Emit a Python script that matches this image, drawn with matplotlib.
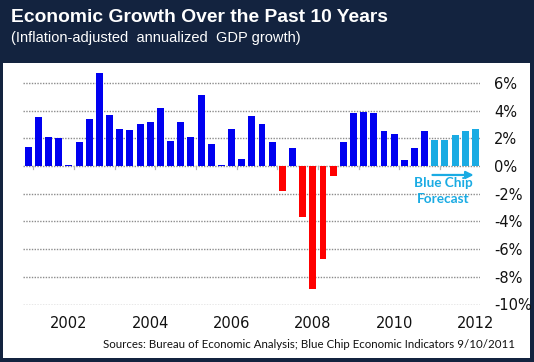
import matplotlib.pyplot as plt
from matplotlib.patches import Rectangle

# quarterly GDP growth, 2001Q4 .. 2012Q4 (%)
quarters = [f"{y}Q{q}" for y in range(2001, 2013) for q in range(1, 5)][3:]
actual = [1.4, 3.5, 2.1, 2.0, 0.1, 1.7, 3.4, 6.7, 3.7, 2.7, 2.6, 3.0, 3.2,
          4.2, 1.8, 3.2, 2.1, 5.1, 1.6, 0.1, 2.7, 0.5, 3.6, 3.0, 1.7, -1.8,
          1.3, -3.7, -8.9, -6.7, -0.7, 1.7, 3.8, 3.9, 3.8, 2.5, 2.3, 0.4,
          1.3, 2.5]
forecast = [1.9, 1.9, 2.2, 2.5, 2.7]
year_labels = ["2002", "2004", "2006", "2008", "2010", "2012"]
yticks = [-10, -8, -6, -4, -2, 0, 2, 4, 6]

navy = "#13233f"
blue = "#0000f0"
red = "#ff0000"
light = "#1aabe3"

fig = plt.figure(figsize=(5.34, 3.62), dpi=100)
fig.patch.set_facecolor(navy)
# white body of the slide
fig.patches.append(Rectangle((3 / 534, 1 - 358 / 362), 527 / 534, 295 / 362,
                             transform=fig.transFigure, facecolor="white",
                             edgecolor="none", zorder=-1))

fig.text(11 / 534, 1 - 17 / 362, "Economic Growth Over the Past 10 Years",
         color="white", fontsize=13.9, fontweight="bold",
         family="Liberation Sans", va="center")
fig.text(11 / 534, 1 - 38 / 362, "(Inflation-adjusted  annualized  GDP growth)",
         color="white", fontsize=10.5, family="Liberation Sans", va="center")

ax = fig.add_axes([22.7 / 534, 1 - 304.5 / 362, 457.3 / 534, 235.5 / 362])
ax.set_zorder(2)
ax.set_facecolor("none")

n_act = len(actual)
xs = list(range(n_act + len(forecast)))
colors = [blue if v >= 0 else red for v in actual]
ax.bar(xs[:n_act], actual, width=0.68, color=colors, zorder=3)
ax.bar(xs[n_act:], forecast, width=0.68, color=light, zorder=3)

ax.set_xlim(-0.55, len(xs) - 0.55)
ax.set_ylim(-10, 7)
ax.set_yticks(yticks)
ax.set_yticklabels([f"{t}%" for t in yticks])
ax.yaxis.tick_right()
ax.tick_params(axis="y", length=0, pad=10, labelsize=10.5, labelcolor="#111111")
# dotted gridlines
ax.yaxis.grid(True, color="#8c8c8c", lw=1.0, ls=(0, (1, 1)))
ax.set_axisbelow(True)

# year labels under the Q4 bar of each even year
label_pos = [quarters.index(f"{y}Q4") for y in year_labels]
ax.set_xticks(label_pos)
ax.set_xticklabels(year_labels)
ax.tick_params(axis="x", length=0, pad=8, labelsize=10.5, labelcolor="#111111")
# small tick marks at year boundaries along the zero line
for i, q in enumerate(quarters):
    if q.endswith("Q4") and i < len(quarters) - 1:
        ax.plot([i + 0.5, i + 0.5], [0, -0.25], color="#b4b4b4", lw=0.9, zorder=2)

for s in ax.spines.values():
    s.set_visible(False)

ax.annotate("", xy=(44.1, -0.65), xytext=(39.5, -0.65),
            arrowprops=dict(arrowstyle="-|>", color=light, lw=1.6,
                            mutation_scale=11), zorder=4)
ax.text(40.8, -1.25, "Blue Chip", color=light, fontsize=9.8, fontweight="bold",
        family="Lato", ha="center", va="center", zorder=4)
ax.text(40.8, -2.4, "Forecast", color=light, fontsize=9.8, fontweight="bold",
        family="Lato", ha="center", va="center", zorder=4)

fig.text(515 / 534, 1 - 344 / 362,
         "Sources: Bureau of Economic Analysis; Blue Chip Economic Indicators 9/10/2011",
         color="#111111", fontsize=8.25, family="Lato", ha="right", va="center")

fig.savefig("out.png", dpi=100, facecolor=fig.get_facecolor())
